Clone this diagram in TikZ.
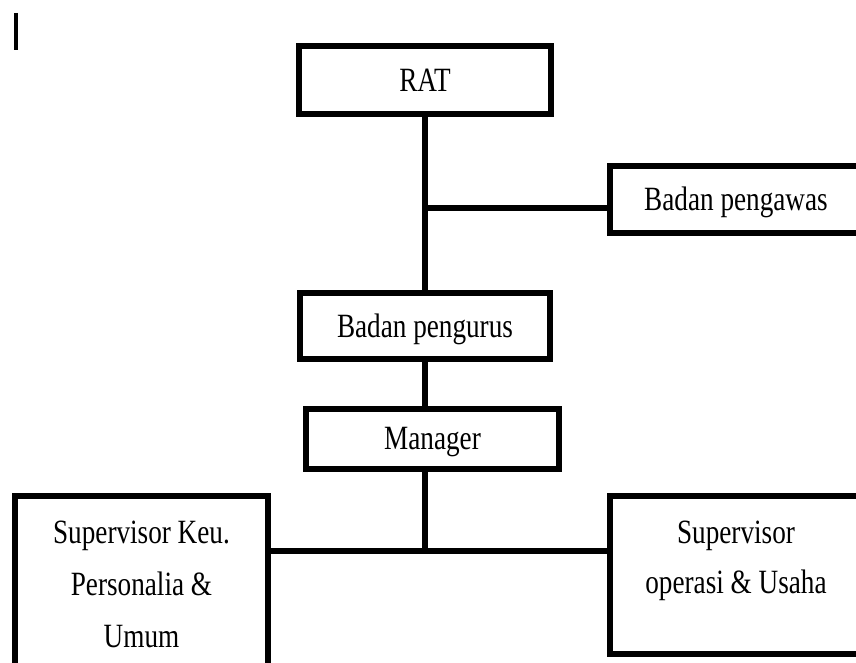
\documentclass[tikz,border=0pt]{standalone}
\usepackage{fontspec}
\setmainfont[FakeStretch=0.8]{Liberation Serif}
\begin{document}
\begin{tikzpicture}[x=1pt,y=-1pt,
  box/.style={draw,line width=6pt,inner sep=0pt,text height=22.5pt,text depth=0pt,font=\fontsize{34}{52}\selectfont},
  txt/.style={inner sep=0pt,anchor=base,font=\fontsize{34}{52}\selectfont},
  link/.style={line width=6pt}]
\useasboundingbox (0,0) rectangle (856,663);
\node[box,minimum width=252pt,minimum height=68pt] (rat) at (425,80) {RAT};
\node[box,minimum width=252pt,minimum height=67pt] (pengawas) at (736,199.5) {Badan pengawas};
\node[box,minimum width=250pt,minimum height=66pt] (pengurus) at (425,326) {Badan pengurus};
\node[box,minimum width=253pt,minimum height=60pt] (manager) at (432.5,438.5) {Manager};
\node[box,minimum width=253pt,minimum height=190pt] (keu) at (141.5,591) {};
\node[box,minimum width=252pt,minimum height=158pt] (ops) at (736,575) {};
\node[txt] (keu1) at (141.5,543) {Supervisor Keu.};
\node[txt] (keu2) at (141.5,595) {Personalia \&};
\node[txt] (keu3) at (141.5,647) {Umum};
\node[txt] (ops1) at (736,543) {Supervisor};
\node[txt] (ops2) at (736,593) {operasi \& Usaha};
\coordinate (j1) at (425,208);
\coordinate (j2) at (425,551);
\draw[link] (rat.south) -- (pengurus.north);
\draw[link] (pengawas.west |- j1) -- (j1);
\draw[link] (pengurus.south) -- (pengurus.south |- manager.north);
\draw[link] (pengurus.south |- manager.south) -- (j2);
\draw[link] (keu.east |- j2) -- (ops.west |- j2);
\draw[line width=4pt] (16,13) -- (16,50);
\end{tikzpicture}
\end{document}
